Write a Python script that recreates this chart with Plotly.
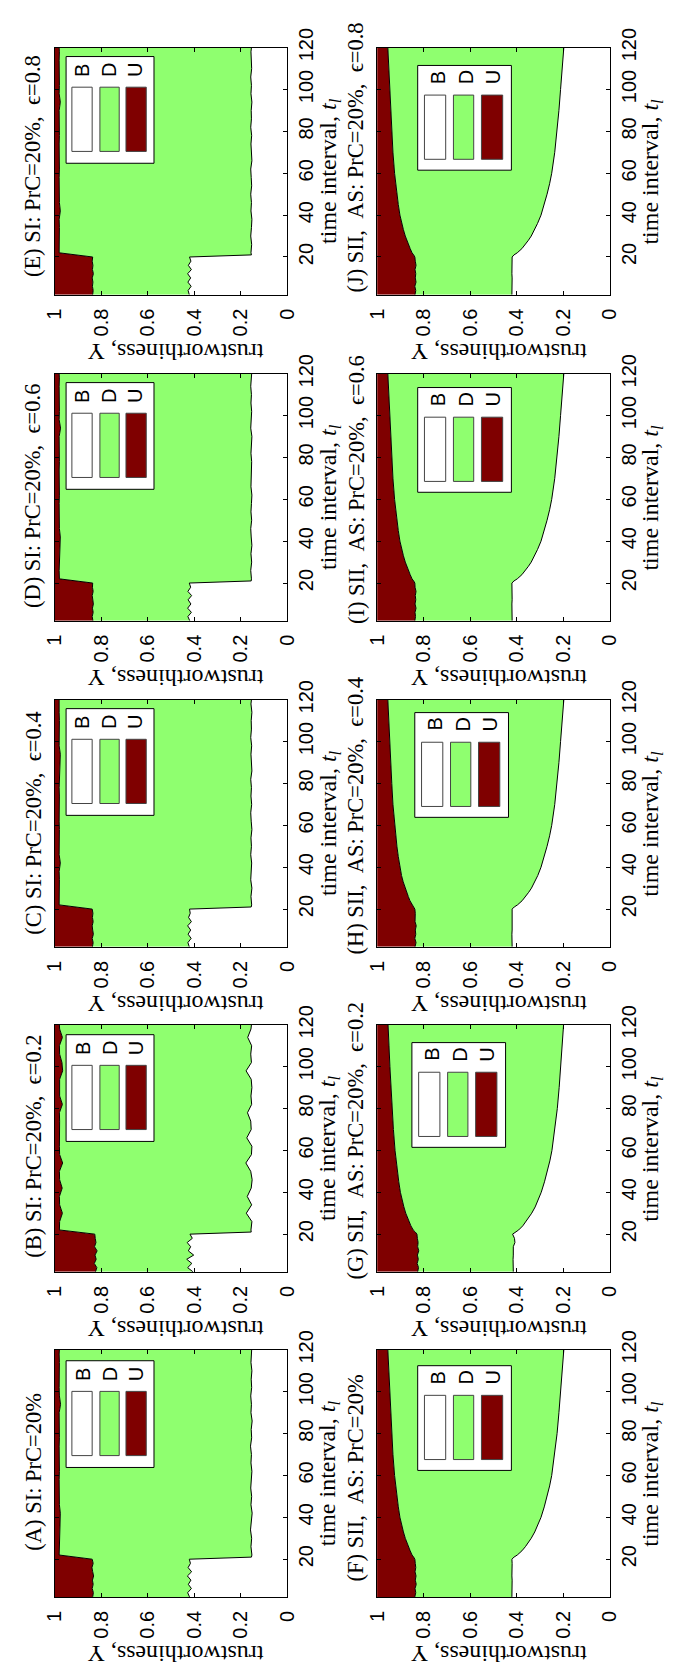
import plotly.graph_objects as go

W, H = 675, 1670
PLOT_W, PLOT_H = 241, 250
COL_LEFT = [44, 378]
ROW_TOP = [28, 358, 688, 1017, 1346]

U_COLOR = "#7f0000"
D_COLOR = "#8fff6f"
SERIF = "Liberation Serif, Times New Roman, serif"
SANS = "Liberation Sans, Arial, sans-serif"

# ---- time grids -------------------------------------------------------------
T_SI_LO = [2, 4, 6, 8, 10, 12, 14, 16, 18, 20]
T_SI_HI = [22, 26, 30, 34, 38, 42, 46, 50, 54, 58, 62, 66, 70, 74, 78, 82,
           86, 90, 94, 98, 102, 106, 110, 114, 118, 120]
T_SI_UD = T_SI_LO + T_SI_HI
T_SI_DB = T_SI_LO + [21] + T_SI_HI

T_SII = [2, 4, 6, 8, 10, 12, 14, 16, 18, 20, 21, 22, 24, 26, 28, 30, 33, 36,
         40, 45, 50, 55, 60, 70, 80, 90, 100, 110, 120]

# ---- SI panels: U/D boundary (ud) and D/B boundary (db) ---------------------
ud_A = [0.836, 0.833, 0.838, 0.834, 0.837, 0.832, 0.836, 0.839, 0.834, 0.838,
        0.980, 0.979, 0.980, 0.979, 0.978, 0.975, 0.979, 0.980, 0.979, 0.980,
        0.979, 0.980, 0.979, 0.980, 0.979, 0.980, 0.978, 0.980, 0.974, 0.979,
        0.980, 0.979, 0.980, 0.979, 0.980, 0.979]
db_A = [0.420, 0.428, 0.412, 0.425, 0.414, 0.429, 0.411, 0.426, 0.416, 0.421,
        0.154,
        0.152, 0.156, 0.153, 0.158, 0.154, 0.151, 0.156, 0.153, 0.157, 0.155,
        0.152, 0.156, 0.154, 0.158, 0.153, 0.155, 0.151, 0.156, 0.154, 0.157,
        0.153, 0.155, 0.152, 0.156, 0.154, 0.153]

ud_B = [0.824, 0.818, 0.829, 0.821, 0.826, 0.817, 0.828, 0.822, 0.825, 0.827,
        0.979, 0.978, 0.966, 0.978, 0.979, 0.967, 0.978, 0.979, 0.965, 0.978,
        0.979, 0.978, 0.979, 0.978, 0.979, 0.966, 0.978, 0.979, 0.978, 0.965,
        0.968, 0.978, 0.979, 0.966, 0.978, 0.979]
db_B = [0.405, 0.428, 0.410, 0.432, 0.402, 0.425, 0.415, 0.430, 0.408, 0.418,
        0.155,
        0.156, 0.152, 0.176, 0.153, 0.172, 0.155, 0.151, 0.157, 0.178, 0.154,
        0.152, 0.174, 0.155, 0.157, 0.171, 0.153, 0.156, 0.152, 0.155, 0.177,
        0.154, 0.157, 0.153, 0.170, 0.156, 0.154]

ud_C = [0.837, 0.834, 0.838, 0.833, 0.836, 0.838, 0.834, 0.837, 0.835, 0.838,
        0.980, 0.979, 0.980, 0.979, 0.980, 0.975, 0.980, 0.979, 0.980, 0.979,
        0.980, 0.979, 0.980, 0.979, 0.980, 0.979, 0.980, 0.979, 0.975, 0.980,
        0.979, 0.980, 0.979, 0.980, 0.979, 0.980]
db_C = [0.421, 0.427, 0.413, 0.426, 0.415, 0.428, 0.412, 0.424, 0.417, 0.420,
        0.155,
        0.153, 0.156, 0.152, 0.157, 0.155, 0.153, 0.157, 0.154, 0.156, 0.152,
        0.155, 0.157, 0.153, 0.156, 0.154, 0.157, 0.152, 0.155, 0.156, 0.153,
        0.157, 0.154, 0.155, 0.152, 0.156, 0.154]

ud_D = [0.835, 0.838, 0.834, 0.837, 0.833, 0.836, 0.838, 0.834, 0.837, 0.836,
        0.979, 0.980, 0.979, 0.980, 0.979, 0.975, 0.979, 0.980, 0.979, 0.980,
        0.979, 0.980, 0.979, 0.980, 0.979, 0.980, 0.979, 0.980, 0.974, 0.980,
        0.979, 0.980, 0.979, 0.980, 0.979, 0.980]
db_D = [0.419, 0.427, 0.412, 0.428, 0.414, 0.426, 0.411, 0.427, 0.415, 0.421,
        0.155,
        0.154, 0.157, 0.153, 0.156, 0.152, 0.155, 0.157, 0.153, 0.156, 0.154,
        0.152, 0.156, 0.155, 0.157, 0.153, 0.156, 0.154, 0.152, 0.157, 0.155,
        0.153, 0.156, 0.154, 0.157, 0.155, 0.153]

ud_E = [0.836, 0.834, 0.837, 0.835, 0.838, 0.833, 0.837, 0.835, 0.838, 0.836,
        0.980, 0.979, 0.980, 0.979, 0.980, 0.975, 0.979, 0.980, 0.979, 0.980,
        0.979, 0.980, 0.979, 0.980, 0.979, 0.980, 0.979, 0.980, 0.975, 0.980,
        0.979, 0.980, 0.979, 0.980, 0.979, 0.980]
db_E = [0.421, 0.426, 0.413, 0.427, 0.415, 0.428, 0.412, 0.425, 0.414, 0.420,
        0.154,
        0.156, 0.153, 0.157, 0.154, 0.152, 0.156, 0.154, 0.157, 0.153, 0.155,
        0.157, 0.152, 0.155, 0.156, 0.153, 0.157, 0.154, 0.155, 0.152, 0.156,
        0.154, 0.157, 0.153, 0.155, 0.156, 0.154]

# ---- SII panels --------------------------------------------------------------
ud_F = [0.838, 0.834, 0.837, 0.832, 0.836, 0.833, 0.837, 0.834, 0.836, 0.838,
        0.843, 0.850, 0.858, 0.866, 0.873, 0.879, 0.887, 0.894, 0.902, 0.909,
        0.915, 0.920, 0.925, 0.932, 0.937, 0.942, 0.946, 0.950, 0.954]
db_F = [0.421, 0.420, 0.421, 0.420, 0.420, 0.421, 0.420, 0.421, 0.420, 0.421,
        0.412, 0.398, 0.378, 0.363, 0.350, 0.338, 0.323, 0.311, 0.296, 0.282,
        0.270, 0.259, 0.250, 0.237, 0.227, 0.219, 0.212, 0.205, 0.198]

ud_G = [0.826, 0.822, 0.828, 0.823, 0.827, 0.821, 0.826, 0.824, 0.827, 0.829,
        0.836, 0.845, 0.855, 0.863, 0.870, 0.877, 0.885, 0.892, 0.900, 0.907,
        0.913, 0.918, 0.923, 0.930, 0.936, 0.941, 0.945, 0.949, 0.953]
db_G = [0.415, 0.416, 0.415, 0.416, 0.415, 0.416, 0.415, 0.408, 0.410, 0.418,
        0.405, 0.392, 0.374, 0.360, 0.347, 0.336, 0.321, 0.309, 0.295, 0.281,
        0.269, 0.258, 0.249, 0.236, 0.226, 0.218, 0.211, 0.205, 0.199]

ud_H = [0.837, 0.833, 0.838, 0.834, 0.836, 0.832, 0.837, 0.835, 0.836, 0.838,
        0.843, 0.851, 0.859, 0.866, 0.873, 0.880, 0.888, 0.895, 0.902, 0.909,
        0.915, 0.920, 0.925, 0.932, 0.937, 0.942, 0.946, 0.950, 0.954]
db_H = [0.420, 0.421, 0.420, 0.421, 0.420, 0.420, 0.421, 0.420, 0.421, 0.420,
        0.411, 0.397, 0.377, 0.362, 0.349, 0.337, 0.322, 0.310, 0.296, 0.282,
        0.270, 0.259, 0.250, 0.237, 0.227, 0.219, 0.212, 0.205, 0.198]

ud_I = [0.838, 0.835, 0.837, 0.833, 0.837, 0.834, 0.836, 0.833, 0.837, 0.838,
        0.843, 0.850, 0.858, 0.866, 0.873, 0.879, 0.887, 0.894, 0.902, 0.909,
        0.915, 0.920, 0.925, 0.932, 0.937, 0.942, 0.946, 0.950, 0.954]
db_I = [0.420, 0.421, 0.420, 0.420, 0.421, 0.420, 0.421, 0.420, 0.420, 0.421,
        0.412, 0.398, 0.378, 0.363, 0.350, 0.338, 0.323, 0.311, 0.296, 0.282,
        0.270, 0.259, 0.250, 0.237, 0.227, 0.219, 0.212, 0.205, 0.198]

ud_J = [0.837, 0.834, 0.838, 0.833, 0.836, 0.834, 0.837, 0.833, 0.836, 0.838,
        0.843, 0.850, 0.858, 0.866, 0.873, 0.879, 0.887, 0.894, 0.902, 0.909,
        0.915, 0.920, 0.925, 0.932, 0.937, 0.942, 0.946, 0.950, 0.954]
db_J = [0.421, 0.420, 0.420, 0.421, 0.420, 0.421, 0.420, 0.420, 0.421, 0.420,
        0.412, 0.398, 0.378, 0.363, 0.350, 0.338, 0.323, 0.311, 0.296, 0.282,
        0.270, 0.259, 0.250, 0.237, 0.227, 0.219, 0.212, 0.205, 0.198]

X_TICKS = [0, 0.2, 0.4, 0.6, 0.8, 1]
X_TICK_TEXT = ["0", "0.2", "0.4", "0.6", "0.8", "1"]
Y_TICKS = [20, 40, 60, 80, 100, 120]
LEGEND_LABELS = ["B", "D", "U"]
LEGEND_COLORS = ["#ffffff", D_COLOR, U_COLOR]

SP = "\u00a0"
# title, row, column, series, legend box offset, title start above plot bottom (px)
panels = [
    ("(A) SI: PrC=20%", 4, 0, T_SI_UD, ud_A, T_SI_DB, db_A, (12, 11), 45),
    (f"(B) SI: PrC=20%,{SP}{SP}ϵ=0.2", 3, 0, T_SI_UD, ud_B, T_SI_DB, db_B, (12, 10), 12),
    (f"(C) SI: PrC=20%,{SP}{SP}ϵ=0.4", 2, 0, T_SI_UD, ud_C, T_SI_DB, db_C, (12, 9), 10),
    (f"(D) SI: PrC=20%,{SP}{SP}ϵ=0.6", 1, 0, T_SI_UD, ud_D, T_SI_DB, db_D, (12, 9), 11),
    (f"(E) SI: PrC=20%,{SP}{SP}ϵ=0.8", 0, 0, T_SI_UD, ud_E, T_SI_DB, db_E, (12, 9), 16),
    (f"(F) SII,{SP}{SP}AS: PrC=20%", 4, 1, T_SII, ud_F, T_SII, db_F, (42, 16), 14),
    (f"(G) SII,{SP}{SP}AS: PrC=20%,{SP}{SP}ϵ=0.2", 3, 1, T_SII, ud_G, T_SII, db_G, (36, 18), -10),
    (f"(H) SII,{SP}{SP}AS: PrC=20%,{SP}{SP}ϵ=0.4", 2, 1, T_SII, ud_H, T_SII, db_H, (39, 13), -10),
    (f"(I) SII,{SP}{SP}AS: PrC=20%,{SP}{SP}ϵ=0.6", 1, 1, T_SII, ud_I, T_SII, db_I, (42, 14), -5),
    (f"(J) SII,{SP}{SP}AS: PrC=20%,{SP}{SP}ϵ=0.8", 0, 1, T_SII, ud_J, T_SII, db_J, (42, 18), 0),
]

# legend geometry inside its box (pixels), per column
LEG_BOX = [(91, 108), (97, 106)]
LEG_PATCH_X = [[(6, 27), (35, 55), (62, 83)], [(7, 29), (37, 58), (66, 88)]]
LEG_PATCH_Y = [(31, 96), (30, 95)]
LEG_LABEL_X = [[17, 45, 72], [21, 50, 78]]
LEG_LABEL_Y = [14, 12]

fig = go.Figure()
layout = dict(width=W, height=H, autosize=False,
              margin=dict(l=0, r=0, t=0, b=0),
              paper_bgcolor="white", plot_bgcolor="white", showlegend=False)
shapes, annotations = [], []

for i, (title, row, col, t_ud, ud, t_db, db, (bx, by), t_start) in enumerate(panels, start=1):
    xk = "xaxis" if i == 1 else f"xaxis{i}"
    yk = "yaxis" if i == 1 else f"yaxis{i}"
    xr = "x" if i == 1 else f"x{i}"
    yr = "y" if i == 1 else f"y{i}"
    left = COL_LEFT[col]
    top = ROW_TOP[row]
    layout[xk] = dict(domain=[left / W, (left + PLOT_W) / W], anchor=yr,
                      range=[1, 0], tickvals=X_TICKS, ticktext=X_TICK_TEXT,
                      tickangle=-90, tickfont=dict(family=SANS, size=20, color="black"),
                      ticks="inside", ticklen=4, tickcolor="black",
                      showline=True, linecolor="black", linewidth=1, mirror="ticks",
                      showgrid=False, zeroline=False, ticklabelstandoff=5)
    layout[yk] = dict(domain=[1 - (top + PLOT_H) / H, 1 - top / H], anchor=xr,
                      range=[2, 120], tickvals=Y_TICKS, side="right",
                      tickangle=-90, tickfont=dict(family=SANS, size=20, color="black"),
                      ticks="inside", ticklen=4, tickcolor="black",
                      showline=True, linecolor="black", linewidth=1, mirror="ticks",
                      showgrid=False, zeroline=False, ticklabelstandoff=1)

    # stacked regions: U between Υ=1 and ud, D between ud and db, B below db
    fig.add_trace(go.Scatter(x=[1, 1], y=[2, 120], mode="lines",
                             line=dict(width=0, color=U_COLOR), xaxis=xr, yaxis=yr,
                             hoverinfo="skip"))
    fig.add_trace(go.Scatter(x=ud, y=t_ud, mode="lines", fill="tonextx",
                             fillcolor=U_COLOR, line=dict(color="black", width=1),
                             xaxis=xr, yaxis=yr, name="U"))
    fig.add_trace(go.Scatter(x=db, y=t_db, mode="lines", fill="tonextx",
                             fillcolor=D_COLOR, line=dict(color="black", width=1),
                             xaxis=xr, yaxis=yr, name="D"))

    # legend box drawn in the axis-domain frame
    def fx(px):
        return px / PLOT_W

    def fy(py):
        return 1 - py / PLOT_H

    bw, bh = LEG_BOX[col]
    dref = dict(xref=f"{xr} domain", yref=f"{yr} domain")
    shapes.append(dict(type="rect", **dref, x0=fx(bx), x1=fx(bx + bw),
                       y0=fy(by + bh), y1=fy(by), fillcolor="white",
                       line=dict(color="black", width=1), layer="above"))
    py0, py1 = LEG_PATCH_Y[col]
    for (px0, px1), lx, lab, colr in zip(LEG_PATCH_X[col], LEG_LABEL_X[col],
                                         LEGEND_LABELS, LEGEND_COLORS):
        shapes.append(dict(type="rect", **dref, x0=fx(bx + px0), x1=fx(bx + px1),
                           y0=fy(by + py1), y1=fy(by + py0), fillcolor=colr,
                           line=dict(color="#444444", width=1), layer="above"))
        annotations.append(dict(**dref, x=fx(bx + lx), y=fy(by + LEG_LABEL_Y[col]),
                                text=lab, showarrow=False, textangle=-90,
                                font=dict(family=SANS, size=20, color="black"),
                                xanchor="center", yanchor="middle"))

    cy = 1 - (top + PLOT_H / 2) / H
    annotations.append(dict(xref="paper", yref="paper", x=(left - 22) / W,
                            y=1 - (top + PLOT_H - t_start) / H,
                            text=title, showarrow=False, textangle=-90,
                            font=dict(family=SERIF, size=22.5, color="black"),
                            xanchor="center", yanchor="bottom"))
    annotations.append(dict(xref="paper", yref="paper", x=(left + PLOT_W + 44) / W, y=cy,
                            text="time interval, <i>t<sub>l</sub></i>", showarrow=False,
                            textangle=-90, font=dict(family=SERIF, size=24, color="black"),
                            xanchor="center", yanchor="middle"))
    annotations.append(dict(xref="paper", yref="paper", x=(left + PLOT_W / 2 + 5) / W,
                            y=1 - (top + PLOT_H + 58) / H,
                            text="trustworthiness, Υ", showarrow=False,
                            textangle=180, font=dict(family=SERIF, size=24, color="black"),
                            xanchor="center", yanchor="middle"))

layout["shapes"] = shapes
layout["annotations"] = annotations
fig.update_layout(**layout)
fig.write_html("out.html")
